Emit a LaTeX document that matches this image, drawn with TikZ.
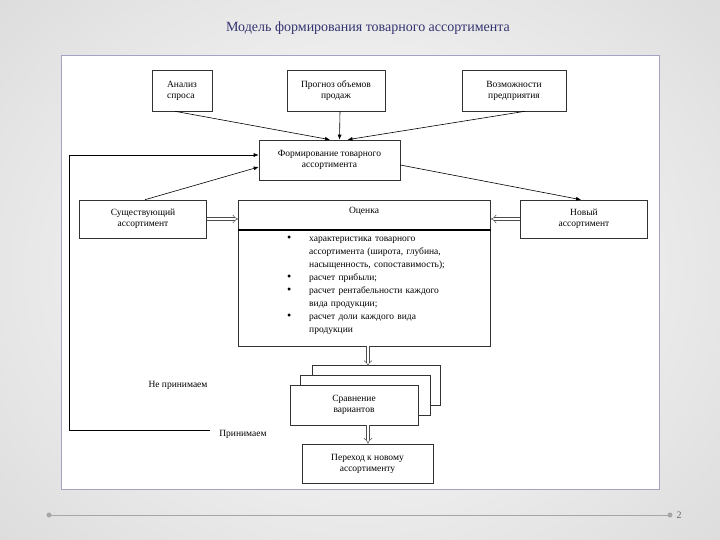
\documentclass[tikz,border=0pt]{standalone}
\usepackage{fontspec}
\setmainfont{Liberation Serif}
\usetikzlibrary{arrows.meta}
\begin{document}
\begin{tikzpicture}[x=1pt,y=-1pt,
  bx/.style={draw=black!80,line width=0.6pt,fill=white,font=\fontsize{9.5}{11}\selectfont,align=center,inner sep=0pt},
  ar/.style={-{Latex[length=5pt,width=4pt]},line width=0.6pt},
  hol/.style={double=white,double distance=2.5pt,line width=0.5pt,-{Implies},draw=black!70}]
\useasboundingbox (0,0) rectangle (720,540);
\shade[inner color=white,outer color=gray!28] (-150,-150) rectangle (870,690);
\node[font=\fontsize{14}{16}\selectfont,text=blue!30!black!80] (title) at (368,28) {Модель формирования товарного ассортимента};
\draw[draw=blue!20!gray!60,fill=white,line width=0.8pt] (61,55) rectangle (659,489);
% boxes
\node[bx,minimum width=60,minimum height=41,align=left] (an) at (182,90.5) {Анализ\\спроса};
\node[bx,minimum width=98,minimum height=41] (pr) at (336,90.5) {Прогноз объемов\\продаж};
\node[bx,minimum width=104,minimum height=41] (vo) at (514,90.5) {Возможности\\предприятия};
\node[bx,minimum width=141,minimum height=40] (fo) at (329.5,160) {Формирование товарного\\ассортимента};
\node[bx,minimum width=127,minimum height=38] (su) at (143,219) {Существующий\\ассортимент};
\node[bx,minimum width=127,minimum height=38] (no) at (584,219) {Новый\\ассортимент};
\node[bx,minimum width=252,minimum height=146] (oc) at (364.5,273) {};
\node[font=\fontsize{9.5}{10}\selectfont] (och) at (364,211) {Оценка};
\draw[line width=1.1pt] (oc.west|-0,230) -- (oc.east|-0,230);
\node[font=\fontsize{9.5}{13}\selectfont,align=left,text width=200,anchor=north west,inner sep=0pt] (list) at (287,236) {%
\makebox[22pt][l]{\large•}характеристика товарного\\
\hspace*{22pt}ассортимента (широта, глубина,\\
\hspace*{22pt}насыщенность, сопоставимость);\\
\makebox[22pt][l]{\large•}расчет прибыли;\\
\makebox[22pt][l]{\large•}расчет рентабельности каждого\\
\hspace*{22pt}вида продукции;\\
\makebox[22pt][l]{\large•}расчет доли каждого вида\\
\hspace*{22pt}продукции};
\node[bx,minimum width=128,minimum height=40] (s3) at (376,385) {};
\node[bx,minimum width=130,minimum height=40] (s2) at (365,395) {};
\node[bx,minimum width=128,minimum height=40] (s1) at (354,405) {Сравнение\\вариантов};
\node[bx,minimum width=131,minimum height=39] (pe) at (367.5,463.5) {Переход к новому\\ассортименту};
% arrows
\draw[ar] ([xshift=-7]an.south) -- ([xshift=0.5]fo.north);
\draw[ar] ([xshift=4]pr.south) -- ([xshift=10]fo.north);
\draw[ar] ([xshift=11]vo.south) -- ([xshift=18]fo.north);
\draw[ar] ([xshift=2]su.north) -- ([yshift=-7]fo.west);
\draw[ar] ([yshift=-5]fo.east) -- ([xshift=-3]no.north);
\draw[hol] (su.east) -- (oc.west|-su.east);
\draw[hol] (no.west) -- (oc.east|-no.west);
\draw[hol] (oc.south-|368,0) -- (368,366);
\draw[hol] (s1.south-|368,0) -- (pe.north-|368,0);
% feedback
\coordinate (c1) at (210,430);
\coordinate (c2) at (69,430);
\coordinate (c3) at (69,155);
\draw[ar] (c1) -- (c2) -- (c3) -- ([yshift=5]fo.west);
\node[font=\fontsize{9.5}{10}\selectfont] (ne) at (178,385) {Не принимаем};
\node[font=\fontsize{9.5}{10}\selectfont] (pri) at (243,434) {Принимаем};
% footer
\draw[gray!70,line width=0.8pt] (49,515) coordinate (l1) -- (670,515) coordinate (l2);
\fill[gray!70] (l1) circle (2.5) (l2) circle (2.5);
\node[font=\fontsize{10}{12}\selectfont,text=gray!80!black] (pg) at (679,515) {2};
\end{tikzpicture}
\end{document}
